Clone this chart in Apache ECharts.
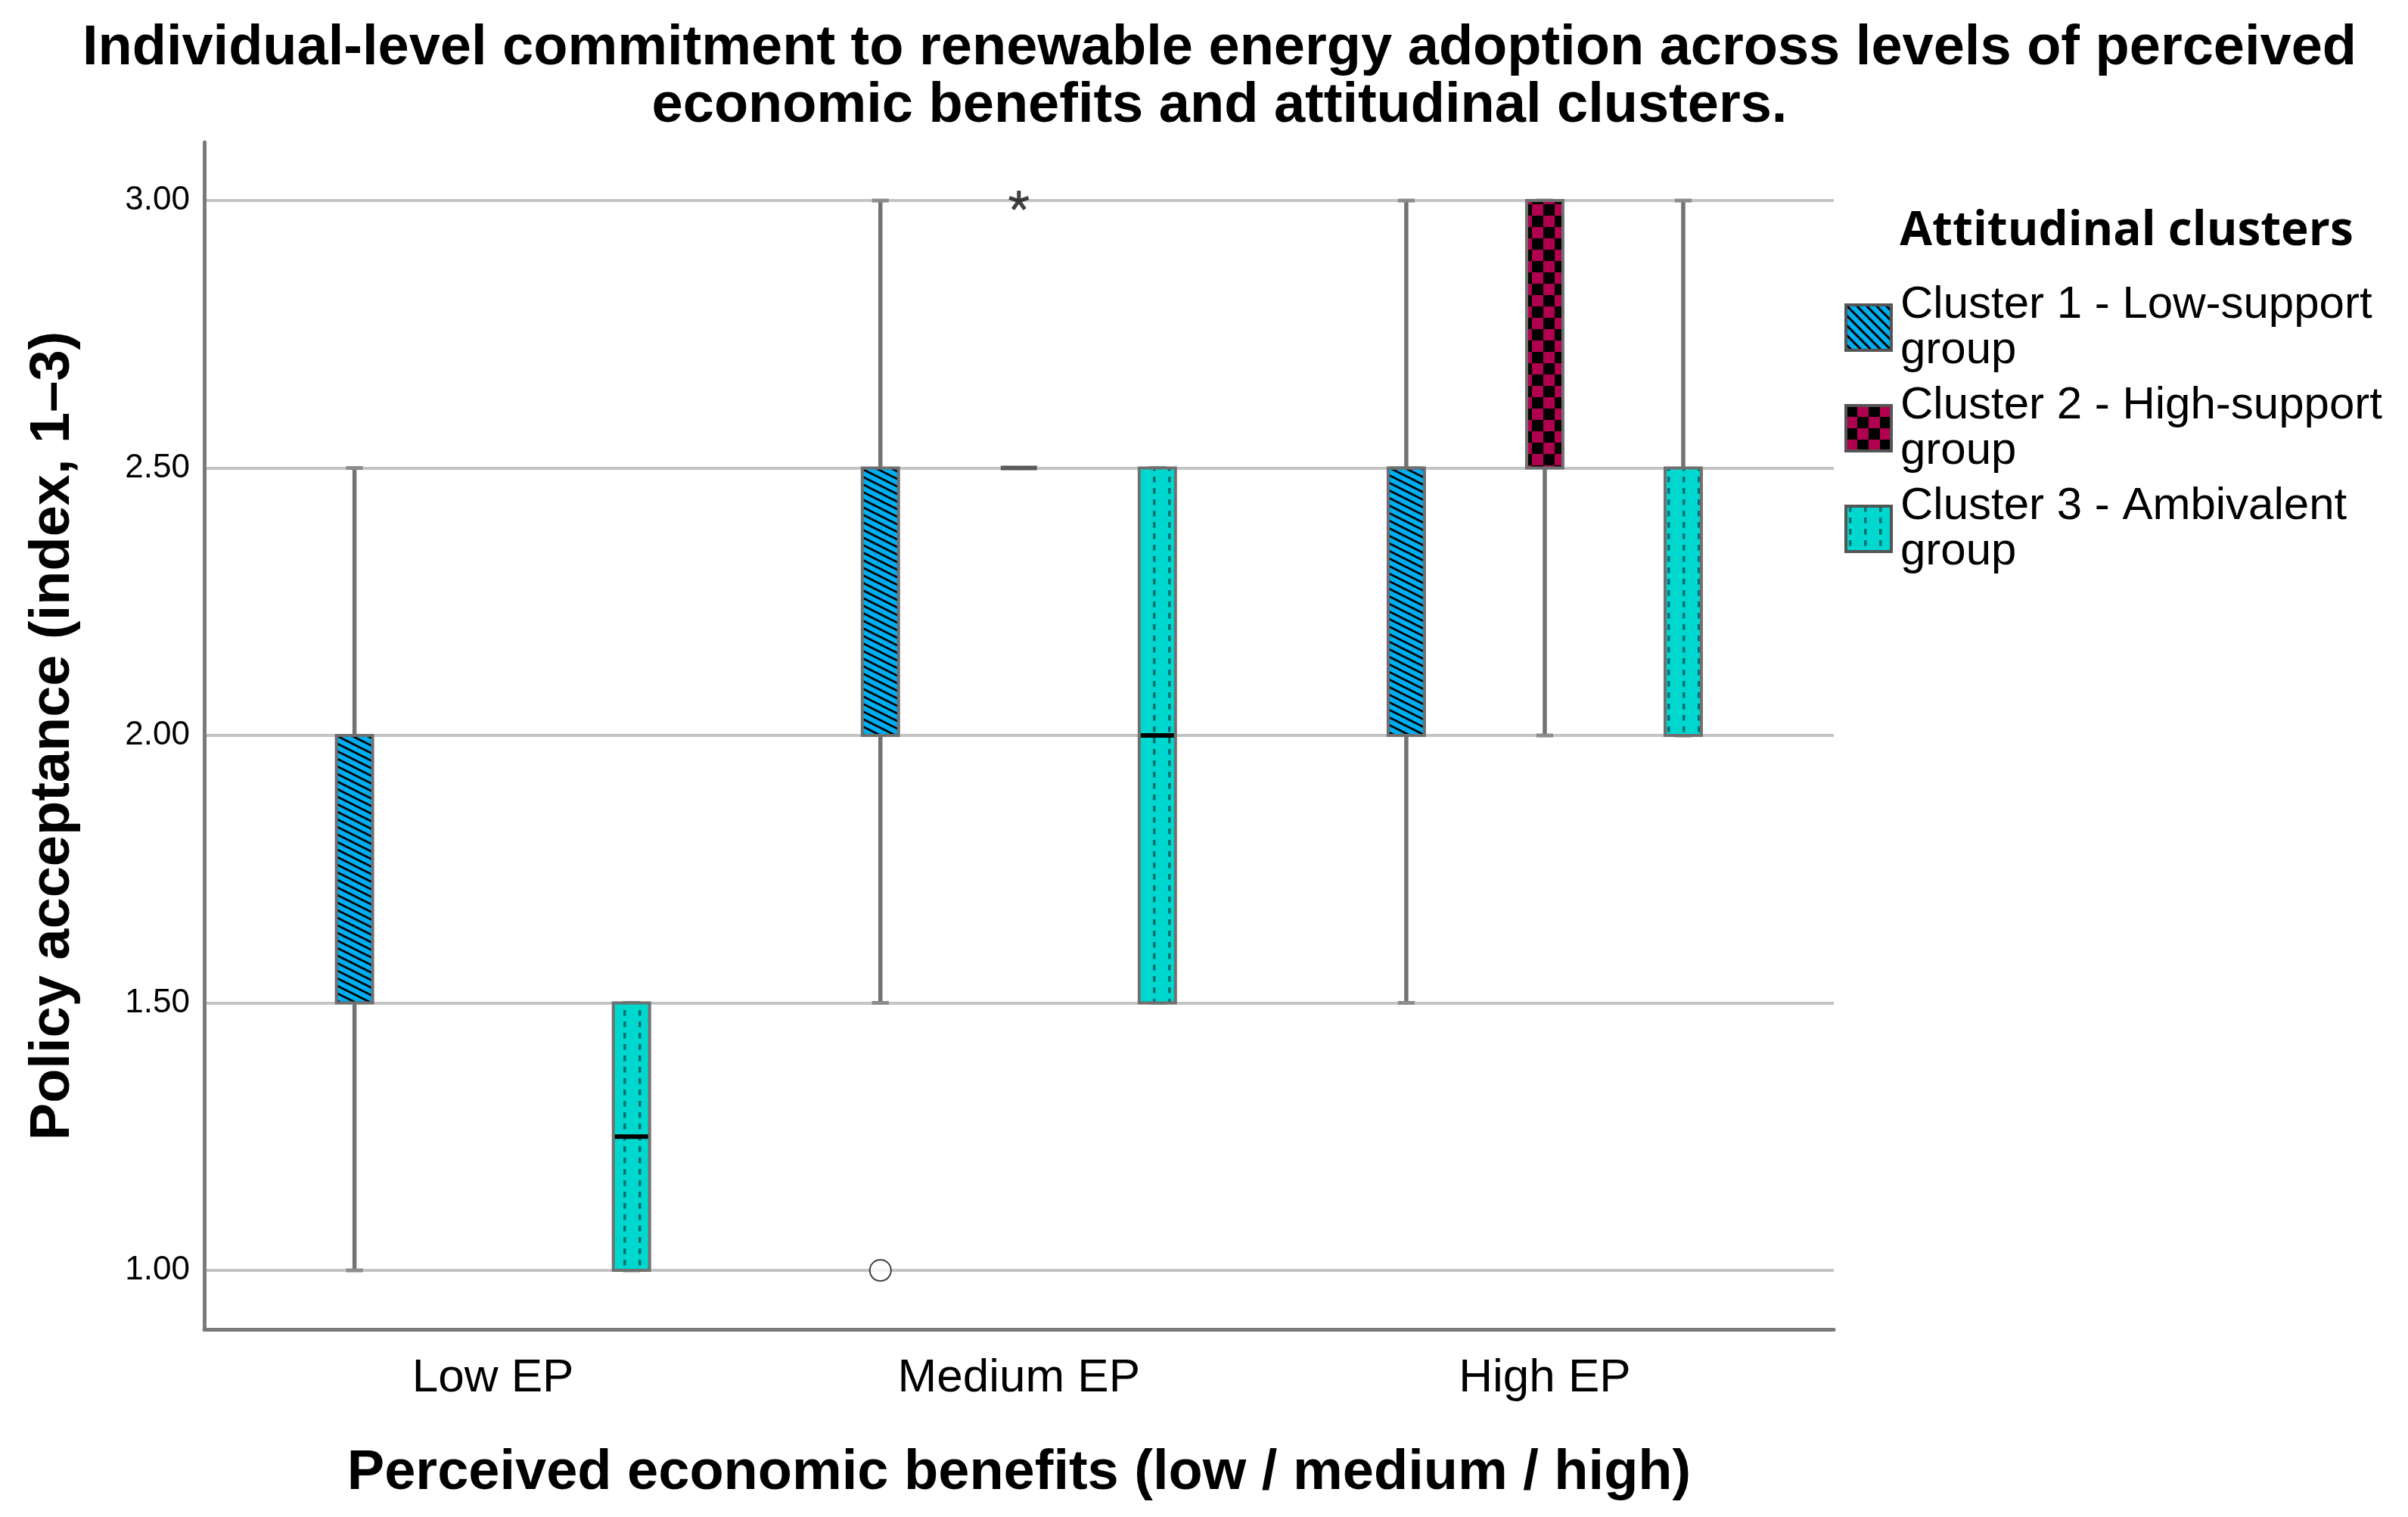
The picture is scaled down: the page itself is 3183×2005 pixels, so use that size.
<!DOCTYPE html>
<html><head><meta charset="utf-8">
<script src="https://cdn.jsdelivr.net/npm/echarts@6/dist/echarts.min.js"></script>
<style>html,body{margin:0;padding:0;background:#fff}#c{width:3183px;height:2005px}</style>
</head><body><div id="c"></div>
<script>
// ---------------- data ----------------
const categories = ['Low EP', 'Medium EP', 'High EP'];
const seriesNames = ['Cluster 1 - Low-support group', 'Cluster 2 - High-support group', 'Cluster 3 - Ambivalent group'];
// [categoryIndex, min, Q1, median, Q3, max]
const cluster1Boxes = [[0, 1.0, 1.5, 2.0, 2.0, 2.5], [1, 1.5, 2.0, 2.0, 2.5, 3.0], [2, 1.5, 2.0, 2.5, 2.5, 3.0]];
const cluster2Boxes = [[1, 2.5, 2.5, 2.5, 2.5, 2.5], [2, 2.0, 2.5, 3.0, 3.0, 3.0]];
const cluster3Boxes = [[0, 1.0, 1.0, 1.25, 1.5, 1.5], [1, 1.5, 1.5, 2.0, 2.5, 2.5], [2, 2.0, 2.0, 2.0, 2.5, 3.0]];
// [categoryIndex, clusterIndex, value]
const outlierCircles = [[1, 0, 1.0]];
const extremeStars = [[1, 1, 3.0]];
const yTicks = [1.0, 1.5, 2.0, 2.5, 3.0];

// ---------------- styling / layout ----------------
const groupOffset = [-0.2633, 0, 0.2633];
const boxW = 0.069, capW = 0.032;

function canvasOf(w, h, draw) { const c = document.createElement('canvas'); c.width = w; c.height = h; draw(c.getContext('2d')); return { image: c, repeat: 'repeat' }; }
function stripeBox() {
  return canvasOf(20, 10, g => {
    g.fillStyle = '#00AEEF'; g.fillRect(0, 0, 20, 10);
    g.strokeStyle = '#000'; g.lineWidth = 2.8;
    for (const k of [-10, 0, 10]) { g.beginPath(); g.moveTo(-2, k - 1); g.lineTo(22, k + 11); g.stroke(); }
  });
}
function stripeIcon() {
  return canvasOf(13, 13, g => {
    g.fillStyle = '#00AEEF'; g.fillRect(0, 0, 13, 13);
    g.strokeStyle = '#000'; g.lineWidth = 3;
    for (const k of [-13, 0, 13]) { g.beginPath(); g.moveTo(k - 2, -2); g.lineTo(k + 15, 15); g.stroke(); }
  });
}
function checker() {
  return canvasOf(30, 30, g => {
    g.fillStyle = '#B0004F'; g.fillRect(0, 0, 30, 30);
    g.fillStyle = '#000'; g.fillRect(0, 0, 15, 15); g.fillRect(15, 15, 15, 15);
  });
}
function dashes() {
  return canvasOf(20, 15, g => {
    g.fillStyle = '#00D8CF'; g.fillRect(0, 0, 20, 15);
    g.fillStyle = '#006E6E'; g.fillRect(4, 0, 3.5, 7.5);
  });
}
const fills = [stripeBox(), checker(), dashes()];
const iconFills = [stripeIcon(), checker(), dashes()];

function asteriskPath() {
  let d = '';
  const cx = 50, cy = 50, L = 48, w = 9;
  for (let k = 0; k < 5; k++) {
    const a = (k * 72) * Math.PI / 180;
    const dx = Math.sin(a), dy = -Math.cos(a), nx = -dy, ny = dx;
    const p = [[cx + nx * w, cy + ny * w], [cx + nx * w + dx * L, cy + ny * w + dy * L],
               [cx - nx * w + dx * L, cy - ny * w + dy * L], [cx - nx * w, cy - ny * w]];
    d += 'M' + p.map(q => q[0].toFixed(2) + ' ' + q[1].toFixed(2)).join(' L') + ' Z ';
  }
  return 'path://' + d;
}

function makeRender(ci) {
  return function (params, api) {
    const x = api.value(0) + groupOffset[ci];
    const pMin = api.coord([x, api.value(1)]);
    const pQ1 = api.coord([x, api.value(2)]);
    const pMed = api.coord([x, api.value(3)]);
    const pQ3 = api.coord([x, api.value(4)]);
    const pMax = api.coord([x, api.value(5)]);
    const hw = api.size([boxW, 0])[0] / 2;
    const hc = api.size([capW, 0])[0] / 2;
    const cx = pMin[0];
    const wStyle = { stroke: '#737373', lineWidth: 5.5 };
    const ch = [];
    if (pMin[1] - pQ1[1] > 0.5) ch.push({ type: 'line', shape: { x1: cx, y1: pMin[1], x2: cx, y2: pQ1[1] }, style: wStyle });
    if (pQ3[1] - pMax[1] > 0.5) ch.push({ type: 'line', shape: { x1: cx, y1: pQ3[1], x2: cx, y2: pMax[1] }, style: wStyle });
    ch.push({ type: 'line', shape: { x1: cx - hc, y1: pMin[1], x2: cx + hc, y2: pMin[1] }, style: { stroke: '#8c8c8c', lineWidth: 5 } });
    ch.push({ type: 'line', shape: { x1: cx - hc, y1: pMax[1], x2: cx + hc, y2: pMax[1] }, style: { stroke: '#8c8c8c', lineWidth: 5 } });
    if (pQ1[1] - pQ3[1] > 0.5) {
      ch.push({ type: 'rect', shape: { x: cx - hw, y: pQ3[1], width: 2 * hw, height: pQ1[1] - pQ3[1] },
        style: { fill: fills[ci], stroke: '#707070', lineWidth: 4 } });
      const inside = pMed[1] < pQ1[1] - 0.5 && pMed[1] > pQ3[1] + 0.5;
      ch.push({ type: 'line', shape: { x1: cx - hw + 2, y1: pMed[1], x2: cx + hw - 2, y2: pMed[1] },
        style: { stroke: inside ? '#000' : '#707070', lineWidth: inside ? 6 : 4 } });
    } else {
      ch.push({ type: 'line', shape: { x1: cx - hw, y1: pMed[1], x2: cx + hw, y2: pMed[1] }, style: { stroke: '#5a5a5a', lineWidth: 6 } });
    }
    return { type: 'group', children: ch };
  };
}

const boxData = [cluster1Boxes, cluster2Boxes, cluster3Boxes];
const series = boxData.map((d, ci) => ({
  name: seriesNames[ci], type: 'custom', renderItem: makeRender(ci),
  data: d, itemStyle: { color: fills[ci] }, encode: { x: 0, y: [1, 5] }, z: 3
}));
series.push({
  name: 'outliers', type: 'scatter', symbol: 'emptyCircle', symbolSize: 28,
  itemStyle: { color: '#111', borderWidth: 2.5 }, z: 5,
  data: outlierCircles.map(o => [o[0] + groupOffset[o[1]], o[2]])
});
series.push({
  name: 'extremes', type: 'scatter', symbol: asteriskPath(), symbolSize: [27, 26], z: 5,
  itemStyle: { color: '#111' },
  data: extremeStars.map(o => [o[0] + groupOffset[o[1]], o[2]])
});

const chart = echarts.init(document.getElementById('c'), null, { renderer: 'canvas' });
chart.setOption({
  backgroundColor: '#fff',
  animation: false,
  graphic: [
    { type: 'text', x: 1612, y: 65, style: { text: 'Individual-level commitment to renewable energy adoption across levels of perceived', font: 'bold 74px "Liberation Sans"', fill: '#000', textAlign: 'center', textVerticalAlign: 'middle' } },
    { type: 'text', x: 1612, y: 141, style: { text: 'economic benefits and attitudinal clusters.', font: 'bold 74px "Liberation Sans"', fill: '#000', textAlign: 'center', textVerticalAlign: 'middle' } },
    { type: 'text', x: 2811, y: 306, style: { text: 'Attitudinal clusters', font: 'bold 62px "Open Sans"', fill: '#000', textAlign: 'center', textVerticalAlign: 'middle' } }
  ],
  grid: { left: 270, right: 759, top: 188, bottom: 248, outerBoundsMode: 'none' },
  legend: {
    data: seriesNames.map((n, i) => ({ name: n, itemStyle: { color: iconFills[i] } })),
    orient: 'vertical', left: 2433, top: 368, icon: 'rect',
    itemWidth: 60, itemHeight: 60, itemGap: 13, selectedMode: false,
    itemStyle: { borderColor: '#555', borderWidth: 4 },
    formatter: n => n.replace(/ group$/, '\ngroup'),
    textStyle: { fontFamily: 'Liberation Sans', fontSize: 60, lineHeight: 60, color: '#000', padding: [0, 0, 0, 7] }
  },
  xAxis: {
    type: 'value', min: -0.549, max: 2.5496,
    name: 'Perceived economic benefits (low / medium / high)', nameLocation: 'middle', nameGap: 154,
    nameTextStyle: { fontFamily: 'Liberation Sans', fontWeight: 'bold', fontSize: 74, color: '#000' },
    axisLine: { show: true, onZero: false, lineStyle: { color: '#7a7a7a', width: 5 } },
    axisTick: { show: false, customValues: [0, 1, 2] },
    splitLine: { show: false },
    axisLabel: { customValues: [0, 1, 2], formatter: v => categories[Math.round(v)], margin: 34,
      fontFamily: 'Liberation Sans', fontSize: 62, color: '#000' }
  },
  yAxis: {
    type: 'value', min: 0.8897, max: 3.109,
    name: 'Policy acceptance (index, 1\u20133)', nameLocation: 'middle', nameRotate: 90, nameGap: 162,
    nameTextStyle: { fontFamily: 'Liberation Sans', fontWeight: 'bold', fontSize: 74, color: '#000' },
    axisLine: { show: true, onZero: false, lineStyle: { color: '#7a7a7a', width: 5 } },
    axisTick: { show: false, customValues: yTicks },
    splitLine: { show: true, lineStyle: { color: '#c4c4c4', width: 4 } },
    axisLabel: { customValues: yTicks, formatter: v => v.toFixed(2), margin: 19,
      fontFamily: 'Liberation Sans', fontSize: 44, color: '#000' }
  },
  series: series
});
</script></body></html>
